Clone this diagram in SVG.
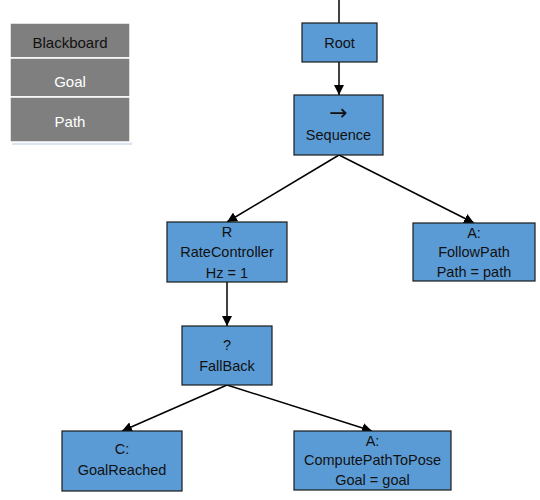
<svg xmlns="http://www.w3.org/2000/svg" width="540" height="500" viewBox="0 0 540 500">
<style>
.n{fill:#5b9bd5;stroke:#1a1a1a;stroke-width:1.2}
.t{font-family:"Liberation Sans",Arial,sans-serif;font-size:14.5px;fill:#111;text-anchor:middle}
.bb{fill:#7f7f7f;stroke:#fff;stroke-width:1.5}
.w{fill:#fff}
.c{stroke:#000;stroke-width:1.5;fill:none}
.sh{fill:#b9cde5;opacity:0.5}
</style>
<defs>
<marker id="a" viewBox="0 0 10 10" refX="10" refY="5" markerWidth="10" markerHeight="10" markerUnits="userSpaceOnUse" orient="auto">
<path d="M0,0 L10,5 L0,10 z" fill="#000"/>
</marker>
</defs>
<rect width="540" height="500" fill="#fff"/>
<g id="blackboard">
<rect class="sh" x="12" y="142" width="120" height="3"/>
<rect class="bb" x="10" y="23" width="120" height="35"/>
<rect class="bb" x="10" y="58" width="120" height="39"/>
<rect class="bb" x="10" y="97" width="120" height="45"/>
<text class="t" x="70" y="48" style="font-size:15px">Blackboard</text>
<text class="t w" x="70" y="87" style="font-size:15px">Goal</text>
<text class="t w" x="70" y="127" style="font-size:15px">Path</text>
</g>
<g id="connectors">
<line class="c" x1="339" y1="0" x2="339" y2="23"/>
<line class="c" x1="339" y1="62" x2="339" y2="95" marker-end="url(#a)"/>
<line class="c" x1="339" y1="155" x2="227" y2="222" marker-end="url(#a)"/>
<line class="c" x1="339" y1="155" x2="474" y2="223" marker-end="url(#a)"/>
<line class="c" x1="227" y1="282" x2="227" y2="326" marker-end="url(#a)"/>
<line class="c" x1="227" y1="385" x2="122" y2="431" marker-end="url(#a)"/>
<line class="c" x1="227" y1="385" x2="372" y2="431" marker-end="url(#a)"/>
</g>
<g id="root">
<rect class="n" x="302" y="23" width="75" height="39"/>
<text class="t" x="339.5" y="48">Root</text>
</g>
<g id="sequence">
<rect class="n" x="294" y="95" width="89" height="60"/>
<text class="t" x="338.5" y="120" style="font-family:'DejaVu Sans',sans-serif;font-size:22px">→</text>
<text class="t" x="338.5" y="140">Sequence</text>
</g>
<g id="ratecontroller">
<rect class="n" x="167" y="222" width="120" height="60"/>
<text class="t" x="227" y="237">R</text>
<text class="t" x="227" y="257">RateController</text>
<text class="t" x="227" y="278">Hz = 1</text>
</g>
<g id="followpath">
<rect class="n" x="413" y="223" width="122" height="58"/>
<text class="t" x="474" y="238">A:</text>
<text class="t" x="474" y="257">FollowPath</text>
<text class="t" x="474" y="277">Path = path</text>
</g>
<g id="fallback">
<rect class="n" x="182" y="326" width="90" height="59"/>
<text class="t" x="227" y="350">?</text>
<text class="t" x="227" y="371">FallBack</text>
</g>
<g id="goalreached">
<rect class="n" x="62" y="431" width="120" height="60"/>
<text class="t" x="122" y="454">C:</text>
<text class="t" x="122" y="475">GoalReached</text>
</g>
<g id="computepathtopose">
<rect class="n" x="294" y="431" width="157" height="59"/>
<text class="t" x="372.5" y="446">A:</text>
<text class="t" x="372.5" y="465">ComputePathToPose</text>
<text class="t" x="372.5" y="485">Goal = goal</text>
</g>
</svg>
